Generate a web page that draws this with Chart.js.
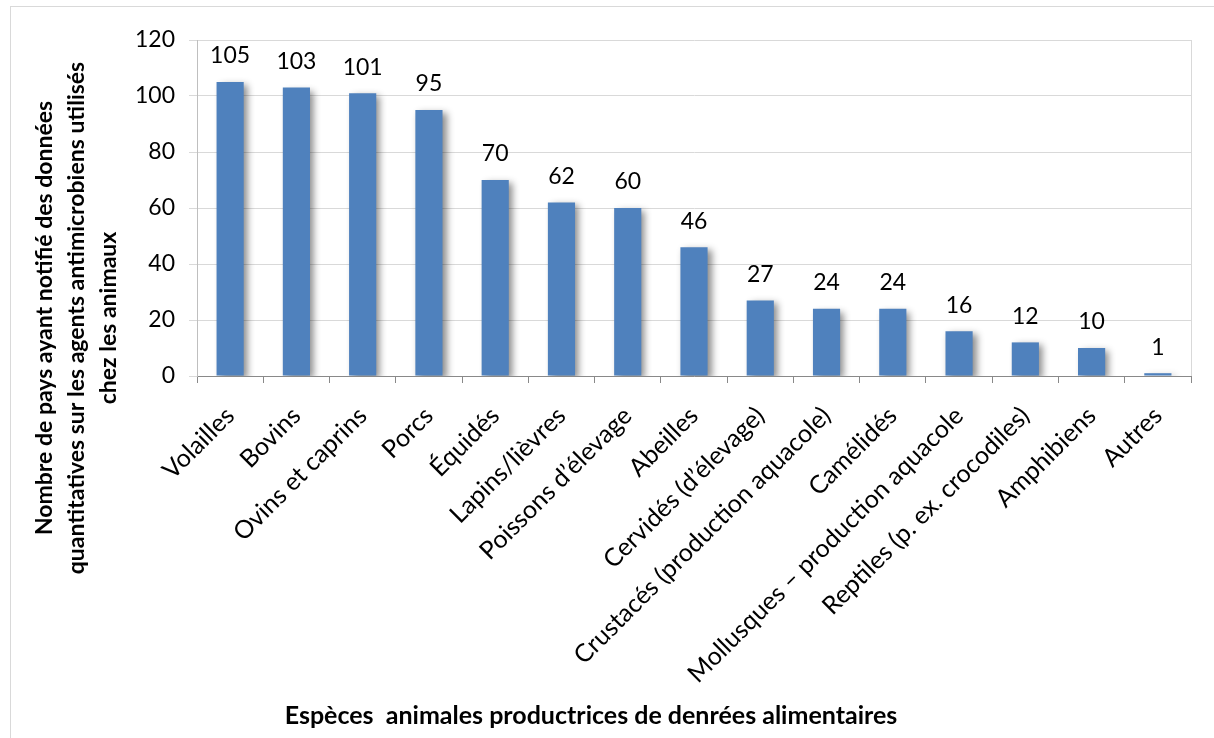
<!DOCTYPE html>
<html lang="fr">
<head>
<meta charset="utf-8">
<title>Espèces animales productrices de denrées alimentaires</title>
<script src="https://cdn.jsdelivr.net/npm/chart.js@4.4.1/dist/chart.umd.min.js"></script>
<style>
  html, body { margin: 0; padding: 0; background: #fff; overflow: hidden; }
  #wrap { position: relative; width: 1214px; height: 738px; }
  #frame {
    position: absolute; left: 10px; top: 6px; width: 1220px; height: 740px;
    border: 1px solid #d9d9d9; box-sizing: border-box;
  }
  canvas { position: absolute; left: 0; top: 0; }
</style>
</head>
<body>
<div id="wrap">
  <div id="frame"></div>
  <canvas id="speciesChart" width="1214" height="738"></canvas>
</div>
<script>
// Species categories and number of reporting countries
const species = [
  'Volailles', 'Bovins', 'Ovins et caprins', 'Porcs', 'Équidés',
  'Lapins/lièvres', 'Poissons d\u2019élevage', 'Abeilles', 'Cervidés (d\u2019élevage)',
  'Crustacés (production aquacole)', 'Camélidés', 'Mollusques \u2013 production aquacole',
  'Reptiles (p. ex. crocodiles)', 'Amphibiens', 'Autres'
];
const countries = [105, 103, 101, 95, 70, 62, 60, 46, 27, 24, 24, 16, 12, 10, 1];

const yTicks = [0, 20, 40, 60, 80, 100, 120];
const yTitle = [
  'Nombre de pays ayant notifié des données',
  'quantitatives sur les agents antimicrobiens utilisés',
  'chez les animaux'
];
const xTitle = 'Espèces  animales productrices de denrées alimentaires';

const FONT = 'Lato, "Open Sans", sans-serif';

// Drop shadow under bars + value labels above them
const barDecor = {
  id: 'barDecor',
  beforeDatasetsDraw(chart) {
    const ctx = chart.ctx;
    ctx.save();
    ctx.shadowColor = 'rgba(0,0,0,0.45)';
    ctx.shadowBlur = 7;
    ctx.shadowOffsetX = 4;
    ctx.shadowOffsetY = 3;
  },
  afterDatasetsDraw(chart) {
    const ctx = chart.ctx;
    ctx.restore();
    const meta = chart.getDatasetMeta(0);
    ctx.save();
    ctx.font = '23px ' + FONT;
    ctx.fillStyle = '#000';
    ctx.textAlign = 'center';
    ctx.textBaseline = 'middle';
    meta.data.forEach((bar, i) => {
      ctx.fillText(String(countries[i]), bar.x, bar.y - 26);
    });
    ctx.restore();
  }
};

// Axis titles and the right edge of the plot area
const chartText = {
  id: 'chartText',
  afterDraw(chart) {
    const ctx = chart.ctx;
    const area = chart.chartArea;
    ctx.save();
    ctx.strokeStyle = '#d9d9d9';
    ctx.lineWidth = 1;
    ctx.beginPath();
    ctx.moveTo(Math.round(area.right) + 0.5, area.top);
    ctx.lineTo(Math.round(area.right) + 0.5, area.bottom);
    ctx.stroke();

    ctx.fillStyle = '#000';
    ctx.font = 'bold 23px ' + FONT;
    ctx.textAlign = 'center';
    ctx.textBaseline = 'middle';
    ctx.translate(0, 318);
    ctx.rotate(-Math.PI / 2);
    yTitle.forEach((line, i) => ctx.fillText(line, 0, 45 + i * 32));
    ctx.restore();

    ctx.save();
    ctx.fillStyle = '#000';
    ctx.font = 'bold 25px ' + FONT;
    ctx.textAlign = 'center';
    ctx.textBaseline = 'middle';
    ctx.fillText(xTitle, 591, 716);
    ctx.restore();
  }
};

new Chart(document.getElementById('speciesChart'), {
  type: 'bar',
  data: {
    labels: species,
    datasets: [{
      data: countries,
      backgroundColor: '#4f81bd',
      borderWidth: 0,
      categoryPercentage: 1,
      barPercentage: 0.41
    }]
  },
  options: {
    responsive: false,
    devicePixelRatio: 1,
    animation: false,
    layout: { padding: { left: 130, top: 40, right: 23, bottom: 40 } },
    plugins: {
      legend: { display: false },
      tooltip: { enabled: false }
    },
    scales: {
      x: {
        grid: {
          drawOnChartArea: false,
          drawTicks: true,
          tickLength: 7,
          color: '#898989'
        },
        border: { color: '#898989', width: 1 },
        ticks: {
          color: '#000',
          font: { family: FONT, size: 25 },
          minRotation: 45,
          maxRotation: 45,
          autoSkip: false,
          labelOffset: 0,
          padding: 18
        },
        afterFit(scale) { scale.height = 322; }
      },
      y: {
        min: 0,
        max: 120,
        afterBuildTicks(scale) { scale.ticks = yTicks.map(v => ({ value: v })); },
        grid: { color: '#d9d9d9', tickLength: 8 },
        border: { color: '#bfbfbf' },
        ticks: {
          color: '#000',
          font: { family: FONT, size: 23 },
          padding: 14
        },
        afterFit(scale) { scale.width = 67; }
      }
    }
  },
  plugins: [barDecor, chartText]
});
</script>
</body>
</html>
